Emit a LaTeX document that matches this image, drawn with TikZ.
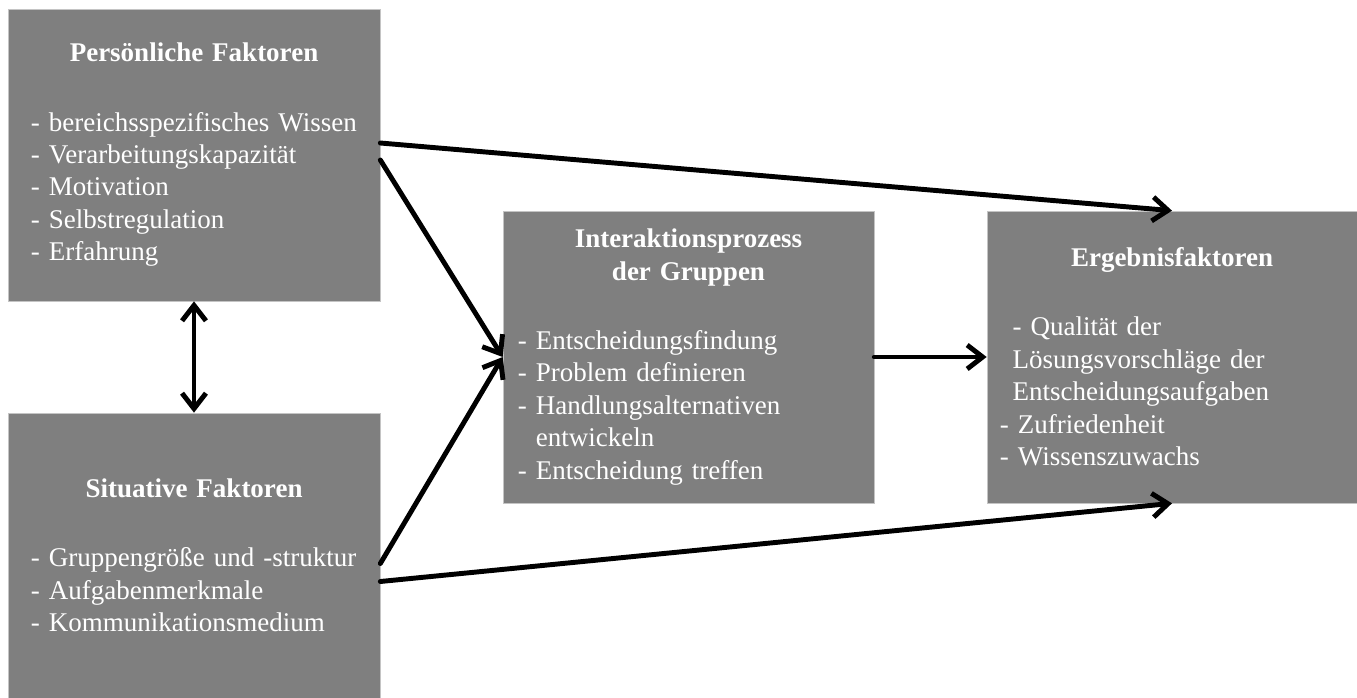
\documentclass[tikz,border=0pt]{standalone}
\usepackage{fontspec}
\setmainfont[WordSpace=0.75]{Liberation Serif}
\definecolor{fgray}{RGB}{127,127,127}
\definecolor{fedge}{RGB}{196,196,196}
\usetikzlibrary{arrows.meta,calc}

\begin{document}
\begin{tikzpicture}[
  x=0.025cm, y=-0.025cm,
  factor/.style={
    rectangle, fill=fgray, draw=fedge, line width=0.4pt,
    minimum width=9.3cm, minimum height=7.3cm,
    text width=8.15cm, inner xsep=0.575cm, inner ysep=0pt,
    align=left, text=white,
    font=\fontsize{19.2}{23.1}\selectfont
  },
  flow/.style={-{Straight Barb[length=11pt,width=17pt]}, line width=3.5pt, line cap=round},
  both/.style={{Straight Barb[length=11pt,width=17pt]}-{Straight Barb[length=11pt,width=17pt]}, line width=3.5pt}
]
\useasboundingbox (0,0) rectangle (1357,698);

% Persoenliche Faktoren
\node[factor] (pers) at (194,155) {
  {\centering\textbf{Persönliche Faktoren}\par}\vspace{26pt}
  - bereichsspezifisches Wissen\\
  - Verarbeitungskapazität\\
  - Motivation\\
  - Selbstregulation\\
  - Erfahrung
};

% Situative Faktoren
\node[factor, minimum height=7.125cm] (sit) at (194,555.5) {
  {\centering\textbf{Situative Faktoren}\par}\vspace{26pt}
  - Gruppengröße und -struktur\\
  - Aufgabenmerkmale\\
  - Kommunikationsmedium
};

% Interaktionsprozess
\node[factor, minimum width=9.275cm, text width=8.525cm, inner xsep=0.375cm] (inter) at (688.5,357) {
  {\centering\textbf{Interaktionsprozess\\der Gruppen}\par}\vspace{26pt}
  - Entscheidungsfindung\\
  - Problem definieren\\
  - Handlungsalternativen\\
  \phantom{-} entwickeln\\
  - Entscheidung treffen
};

% Ergebnisfaktoren
\node[factor, minimum width=9.25cm, text width=8.6cm, inner xsep=0.325cm] (erg) at (1172,357) {
  {\centering\textbf{Ergebnisfaktoren}\par}\vspace{26pt}
  \hspace*{9pt}- Qualität der\\
  \hspace*{9pt}Lösungsvorschläge der\\
  \hspace*{9pt}Entscheidungsaufgaben\\
  - Zufriedenheit\\
  - Wissenszuwachs
};

\draw[both] (pers.south) -- (sit.north);

\draw[flow] ($(pers.east)+(0,5)$) -- (inter.west);
\draw[flow] ($(sit.east)+(0,8)$) -- (inter.west);
\draw[flow] ($(pers.east)+(0,-12)$) -- (erg.north);
\draw[flow] ($(sit.east)+(0,26)$) -- (erg.south);
\draw[flow] (inter.east) -- (erg.west);
\end{tikzpicture}
\end{document}
